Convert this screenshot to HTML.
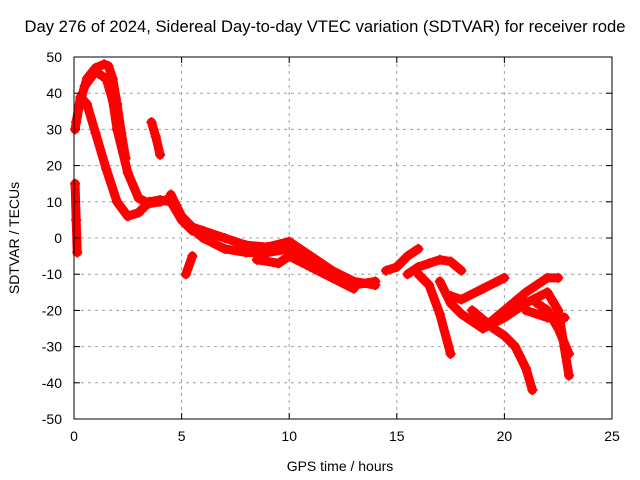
<!DOCTYPE html>
<html><head><meta charset="utf-8"><style>
body{margin:0;background:#fff;}
svg{display:block;font-family:"Liberation Sans",sans-serif;}
</style></head><body>
<svg id="chart" width="640" height="480">
<rect width="640" height="480" fill="#fff"/>
<text x="325" y="32" font-size="16.6" text-anchor="middle">Day 276 of 2024, Sidereal Day-to-day VTEC variation (SDTVAR) for receiver rode</text>
<g id="grid"></g>
<g id="series"></g>
<g id="axes"></g>
<text x="340" y="471" font-size="14" text-anchor="middle">GPS time / hours</text>
<text transform="translate(19,238) rotate(-90)" font-size="14" text-anchor="middle">SDTVAR / TECUs</text>
</svg>
<script>
const xTicks=[0,5,10,15,20,25];
const yTicks=[50,40,30,20,10,0,-10,-20,-30,-40,-50];
const seriesA=[[0.1,32],[0.3,38],[0.6,44],[1.0,47],[1.4,48],[1.6,47.5],[1.8,44],[2.0,37],[2.2,29],[2.4,22]];
const seriesB=[[0.05,30],[0.3,39],[0.6,37],[1.0,29],[1.5,19],[2.0,10],[2.5,6],[3.0,7],[3.5,10],[4.0,10.5],[4.5,10],[5.0,5],[5.5,2]];
const seriesC=[[0.5,42],[1.0,46],[1.5,44],[1.8,38],[2.0,30],[2.5,18],[3.0,11],[3.5,9.5],[4.0,10],[4.5,11]];
const seriesD=[[3.6,32],[3.8,28],[4.0,23]];
const seriesE=[[0.05,15],[0.1,5],[0.15,-4]];
const seriesF=[[5.2,-10],[5.5,-5]];
const seriesG=[[4.5,12],[5.0,6],[5.5,3],[6.0,2],[7.0,0],[8.0,-2],[9.0,-2.5],[10.0,-1],[11.0,-5],[12.0,-9],[13.0,-12],[14.0,-13]];
const seriesH=[[5.0,5],[6.0,0],[7.0,-3],[8.0,-4],[9.0,-4],[10.0,-3],[11.0,-7],[12.0,-10],[13.0,-13],[14.0,-12]];
const seriesI=[[8.5,-6],[9.5,-7],[10.0,-5],[11.0,-8],[12.0,-11],[13.0,-14]];
const seriesJ=[[14.5,-9],[15.0,-8],[15.5,-5],[16.0,-3]];
const seriesK=[[15.5,-10],[16.0,-8],[16.5,-7],[17.0,-6],[17.5,-6.5],[18.0,-9]];
const seriesL=[[16.0,-10],[16.5,-13],[17.0,-21],[17.5,-32]];
const seriesM=[[17.0,-12],[17.5,-18],[18.0,-21],[19.0,-25],[20.0,-22],[21.0,-18],[22.0,-15],[22.5,-20],[23.0,-38]];
const seriesN=[[17.5,-16],[18.0,-17],[19.0,-14],[20.0,-11]];
const seriesO=[[18.5,-20],[19.5,-25],[20.0,-27],[20.5,-30],[21.0,-36],[21.3,-42]];
const seriesP=[[19.0,-25],[20.0,-20],[21.0,-15],[22.0,-11],[22.5,-11]];
const seriesQ=[[21.0,-20],[22.0,-22],[22.8,-22]];
const seriesR=[[21.5,-18],[22.0,-20],[22.5,-25],[23.0,-32]];
const allSeries=[seriesA,seriesB,seriesC,seriesD,seriesE,seriesF,seriesG,seriesH,seriesI,seriesJ,seriesK,seriesL,seriesM,seriesN,seriesO,seriesP,seriesQ,seriesR];

const L=74,R=612,T=57,B=419;
const xs=v=>L+(v-0)/25*(R-L);
const ys=v=>B-(v+50)/100*(B-T);
const NS="http://www.w3.org/2000/svg";
function mk(tag,attrs,parent){const e=document.createElementNS(NS,tag);for(const k in attrs)e.setAttribute(k,attrs[k]);parent.appendChild(e);return e;}
const grid=document.getElementById('grid'),axes=document.getElementById('axes'),ser=document.getElementById('series');
xTicks.forEach(t=>{
  const x=xs(t);
  if(t>0&&t<25){const g=mk('line',{x1:x,x2:x,y1:T,y2:B,stroke:'#a0a0a0','stroke-dasharray':'3,4'},grid);
  
  }
  mk('line',{x1:x,x2:x,y1:B,y2:B-6,stroke:'#000'},axes);
  mk('line',{x1:x,x2:x,y1:T,y2:T+6,stroke:'#000'},axes);
  const tx=mk('text',{x:x,y:B+22,'font-size':14,'text-anchor':'middle'},axes);
  tx.textContent=t;
  
  
});
yTicks.forEach(t=>{
  const y=ys(t);
  if(t>-50&&t<50){const g=mk('line',{x1:L,x2:R,y1:y,y2:y,stroke:'#a0a0a0','stroke-dasharray':'3,4'},grid);
  
  }
  mk('line',{x1:L,x2:L+6,y1:y,y2:y,stroke:'#000'},axes);
  mk('line',{x1:R,x2:R-6,y1:y,y2:y,stroke:'#000'},axes);
  const tx=mk('text',{x:L-12,y:y+5,'font-size':14,'text-anchor':'end'},axes);
  tx.textContent=t;
  
  
});
const fr=mk('rect',{x:L,y:T,width:R-L,height:B-T,fill:'none',stroke:'#000'},axes);


allSeries.forEach((s,i)=>{
  const p=mk('polyline',{points:s.map(d=>xs(d[0])+','+ys(d[1])).join(' '),fill:'none',stroke:'#ff0000','stroke-width':9,'stroke-linejoin':'round','stroke-linecap':'round'},ser);
  
  
  s.forEach(d=>{
    const m=mk('path',{d:`M${xs(d[0])-5},${ys(d[1])}h10M${xs(d[0])},${ys(d[1])-5}v10`,stroke:'#ff0000','stroke-width':2},ser);
    
    
  });
});
</script>
</body></html>
